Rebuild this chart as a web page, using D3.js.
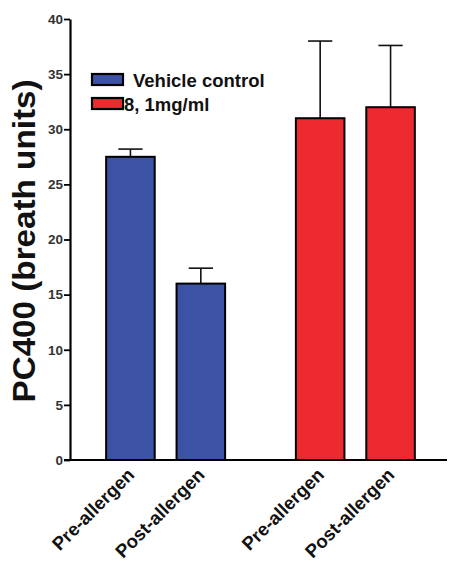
<!DOCTYPE html>
<html>
<head>
<meta charset="utf-8">
<script src="https://cdn.jsdelivr.net/npm/d3@7/dist/d3.min.js"></script>
<style>
  body { margin: 0; background: #fff; }
  svg text { font-family: "Liberation Sans", Arial, sans-serif; }
</style>
</head>
<body>
<div id="chart"></div>
<script>
var groups = ["Vehicle control", "8, 1mg/ml"];
var phases = ["Pre-allergen", "Post-allergen"];
var means = [[27.5, 16.0], [31.0, 32.0]];
var errors = [[0.7, 1.4], [7.0, 5.6]];
var yTicks = [0, 5, 10, 15, 20, 25, 30, 35, 40];
var colors = ["#3b52a5", "#ec2a2f"];

var width = 449, height = 563;
var margin = { left: 70, top: 19, bottom: 103 };

var svg = d3.select("#chart")
    .append("svg")
        .attr("width", width)
        .attr("height", height);

var yScale = d3.scaleLinear()
    .domain([0, 40])
    .range([height - margin.bottom, margin.top]);

var x0 = d3.scaleBand()
    .domain(groups)
    .range([72, 449])
    .paddingInner(0.373)
    .paddingOuter(0.18);

var x1 = d3.scaleBand()
    .domain(phases)
    .range([0, x0.bandwidth()])
    .paddingInner(0.31);

// bars
var data = [];
groups.forEach(function(g, gi){
    phases.forEach(function(p, pi){
        data.push({ group: g, phase: p, gi: gi, value: means[gi][pi], err: errors[gi][pi] });
    });
});

var barX = function(d) { return x0(d.group) + x1(d.phase); };
var barMid = function(d) { return barX(d) + x1.bandwidth() / 2; };

// error bars (drawn first so the bar outline covers the stem base)
var eb = svg.append("g");
eb.selectAll("line.stem")
    .data(data)
    .enter()
    .append("line")
        .attr("x1", barMid).attr("x2", barMid)
        .attr("y1", function(d){ return yScale(d.value); })
        .attr("y2", function(d){ return yScale(d.value + d.err); })
        .attr("stroke", "#111").attr("stroke-width", 1.6);
eb.selectAll("line.cap")
    .data(data)
    .enter()
    .append("line")
        .attr("x1", function(d){ return barMid(d) - x1.bandwidth() / 4; })
        .attr("x2", function(d){ return barMid(d) + x1.bandwidth() / 4; })
        .attr("y1", function(d){ return yScale(d.value + d.err); })
        .attr("y2", function(d){ return yScale(d.value + d.err); })
        .attr("stroke", "#111").attr("stroke-width", 1.6);

svg.append("g")
    .selectAll("rect")
    .data(data)
    .enter()
    .append("rect")
        .attr("x", barX)
        .attr("y", function(d){ return yScale(d.value); })
        .attr("width", x1.bandwidth())
        .attr("height", function(d){ return yScale(0) - yScale(d.value); })
        .attr("fill", function(d){ return colors[d.gi]; })
        .attr("stroke", "#000")
        .attr("stroke-width", 2);

// y axis
var yAxis = svg.append("g")
    .attr("transform", "translate(" + margin.left + ",0)")
    .call(d3.axisLeft(yScale).tickValues(yTicks).tickSize(6).tickSizeOuter(0).tickPadding(1));
yAxis.select(".domain").attr("stroke", "#000").attr("stroke-width", 2.2);
yAxis.selectAll(".tick line").attr("stroke", "#000").attr("stroke-width", 1.8);
yAxis.selectAll(".tick text")
    .attr("font-size", "13.5px")
    .attr("font-weight", "bold")
    .attr("fill", "#333");

// x axis line
svg.append("line")
    .attr("x1", margin.left - 6).attr("x2", 447)
    .attr("y1", yScale(0)).attr("y2", yScale(0))
    .attr("stroke", "#000").attr("stroke-width", 2.2);

// x labels
svg.append("g")
    .selectAll("text")
    .data(data)
    .enter()
    .append("text")
        .attr("transform", function(d){
            return "translate(" + (barMid(d) + 5) + "," + (yScale(0) + 16) + ") rotate(-45)";
        })
        .attr("text-anchor", "end")
        .attr("font-size", "18.5px")
        .attr("font-weight", "bold")
        .attr("fill", "#111")
        .text(function(d){ return d.phase; });

// y label
svg.append("text")
    .attr("transform", "translate(35," + 241 + ") rotate(-90)")
    .attr("text-anchor", "middle")
    .attr("font-size", "32px")
    .attr("font-weight", "bold")
    .attr("fill", "#111")
    .attr("textLength", 323)
    .attr("lengthAdjust", "spacingAndGlyphs")
    .text("PC400 (breath units)");

// legend
var legend = svg.append("g");
var legendRows = [
    { y: 74, textX: 133 },
    { y: 98, textX: 124 }
];
groups.forEach(function(g, i){
    legend.append("rect")
        .attr("x", 92).attr("y", legendRows[i].y)
        .attr("width", 31).attr("height", 11)
        .attr("fill", colors[i])
        .attr("stroke", "#000").attr("stroke-width", 2.2);
    legend.append("text")
        .attr("x", legendRows[i].textX)
        .attr("y", legendRows[i].y + 13)
        .attr("font-size", "18.5px")
        .attr("font-weight", "bold")
        .attr("fill", "#111")
        .text(g);
});
</script>
</body>
</html>
